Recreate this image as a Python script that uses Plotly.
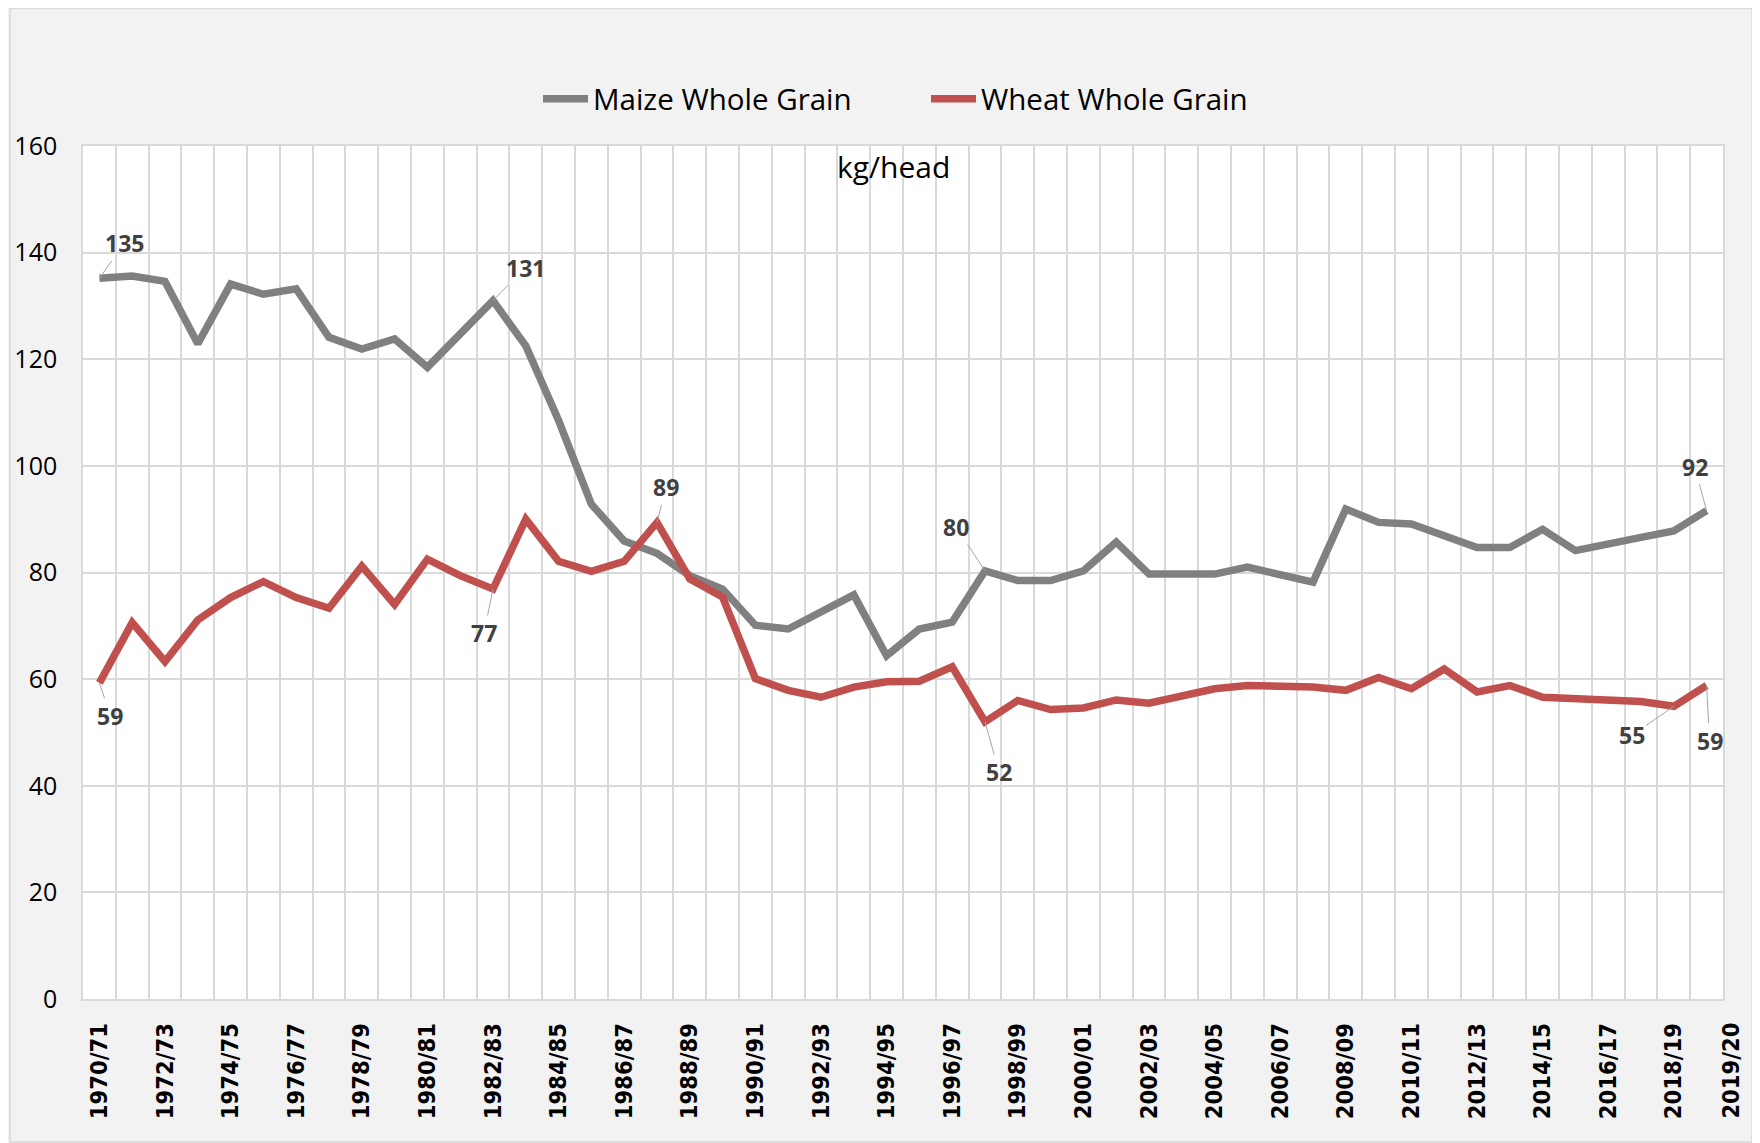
import plotly.graph_objects as go

seasons = ["1970/71", "1971/72", "1972/73", "1973/74", "1974/75", "1975/76", "1976/77", "1977/78",
           "1978/79", "1979/80", "1980/81", "1981/82", "1982/83", "1983/84", "1984/85", "1985/86",
           "1986/87", "1987/88", "1988/89", "1989/90", "1990/91", "1991/92", "1992/93", "1993/94",
           "1994/95", "1995/96", "1996/97", "1997/98", "1998/99", "1999/00", "2000/01", "2001/02",
           "2002/03", "2003/04", "2004/05", "2005/06", "2006/07", "2007/08", "2008/09", "2009/10",
           "2010/11", "2011/12", "2012/13", "2013/14", "2014/15", "2015/16", "2016/17", "2017/18",
           "2018/19", "2019/20"]

maize = [135.2, 135.6, 134.6, 122.9, 134.1, 132.2, 133.2, 124.1, 121.9, 123.8,
         118.5, 124.7, 131.0, 122.5, 108.5, 92.8, 85.9, 83.6, 79.4, 76.9,
         70.1, 69.4, 72.7, 75.8, 64.4, 69.4, 70.7, 80.3, 78.5, 78.5,
         80.3, 85.7, 79.7, 79.7, 79.7, 81.0, 79.7, 78.2, 91.9, 89.4,
         89.1, 86.9, 84.7, 84.7, 88.1, 84.1, 85.2, 86.6, 87.8, 91.6]

wheat = [59.3, 70.6, 63.3, 71.1, 75.3, 78.3, 75.3, 73.3, 81.2, 74.0,
         82.5, 79.4, 76.9, 90.0, 82.1, 80.2, 82.1, 89.4, 78.8, 75.4,
         60.1, 57.9, 56.6, 58.5, 59.5, 59.6, 62.3, 52.0, 56.0, 54.3,
         54.6, 56.1, 55.5, 57.0, 58.2, 58.8, 58.8, 58.5, 57.9, 60.3,
         58.2, 61.9, 57.6, 58.8, 56.6, 56.3, 55.8, 55.8, 54.9, 58.8]

# which points carry a value label, and where the label sits (px offset)
maize_labels = {0: (25, -35), 12: (32, -33), 27: (-29, -44), 49: (-12, -44)}
wheat_labels = {0: (11, 33), 12: (-9, 44), 17: (9, -35), 27: (14, 50), 48: (-42, 29), 49: (3, 55)}

idx = list(range(len(seasons)))

# figure geometry (page body adds an 8px margin top/left)
W, H = 1752, 1135
L, R, T, B = 75, 37, 138, 144
pw, ph = W - L - R, H - T - B

def px(x):
    return (x - L) / pw

def py(y):
    return (H - B - y) / ph

fig = go.Figure()
fig.add_trace(go.Scatter(x=idx, y=maize, name="Maize Whole Grain", mode="lines",
                         line=dict(color="#808080", width=7.5)))
fig.add_trace(go.Scatter(x=idx, y=wheat, name="Wheat Whole Grain", mode="lines",
                         line=dict(color="#C0504D", width=7.5)))

anns = []
for series, labels in ((maize, maize_labels), (wheat, wheat_labels)):
    for i, (ax, ay) in labels.items():
        anns.append(dict(x=i, y=series[i], xref="x", yref="y", text=f"{series[i]:.0f}",
                         showarrow=True, arrowhead=0, arrowwidth=1, arrowcolor="#a6a6a6",
                         standoff=0, ax=ax, ay=ay,
                         font=dict(family="Open Sans", size=23, color="#404040", weight="bold")))

anns.append(dict(x=px(885), y=py(158), xref="paper", yref="paper", text="kg/head",
                 xanchor="center", yanchor="middle", showarrow=False,
                 font=dict(family="Open Sans", size=30, color="black")))

tick_font = dict(family="DejaVu Sans Condensed, DejaVu Sans", size=23.5, color="black", weight="bold")

# last season label sits just past the final category
anns.append(dict(x=idx[-1], y=0, xref="x", yref="paper", text=seasons[-1], textangle=-90,
                 showarrow=False, xshift=24, yshift=-22, yanchor="top", xanchor="center",
                 font=tick_font))

fig.update_layout(
    width=W, height=H,
    margin=dict(l=L, r=R, t=T, b=B),
    paper_bgcolor="#f2f2f2", plot_bgcolor="white",
    showlegend=True,
    legend=dict(orientation="h", x=px(530), xanchor="left", y=py(91), yanchor="middle",
                font=dict(family="Open Sans", size=29.5, color="black"),
                itemwidth=45, entrywidth=328, bgcolor="rgba(0,0,0,0)"),
    annotations=anns,
    shapes=[
        dict(type="rect", xref="paper", yref="paper", x0=px(1745), x1=px(W + 5), y0=py(H + 5), y1=py(-5),
             fillcolor="white", line=dict(width=0)),
        dict(type="rect", xref="paper", yref="paper", x0=px(2), x1=px(1744), y0=py(H - 1), y1=py(0.5),
             line=dict(color="#d9d9d9", width=1.5)),
    ],
)

fig.update_xaxes(range=[-0.5, len(seasons) - 0.5], tickmode="array", automargin=False,
                 tickvals=idx[::2], ticktext=seasons[::2], tickangle=-90,
                 tickfont=tick_font,
                 ticks="", ticklabelstandoff=13, showgrid=False, zeroline=False,
                 showline=True, mirror=True, linecolor="#d9d9d9", linewidth=1.5,
                 minor=dict(tick0=-0.5, dtick=1, showgrid=True, gridcolor="#d9d9d9", gridwidth=1.5))
fig.update_yaxes(range=[0, 160], dtick=20, showgrid=True, gridcolor="#d9d9d9", gridwidth=1.5,
                 zeroline=False, ticks="", ticklabelstandoff=19, automargin=False,
                 tickfont=dict(family="Open Sans", size=25, color="black"),
                 showline=True, mirror=True, linecolor="#d9d9d9", linewidth=1.5)

fig.write_html("out.html")
